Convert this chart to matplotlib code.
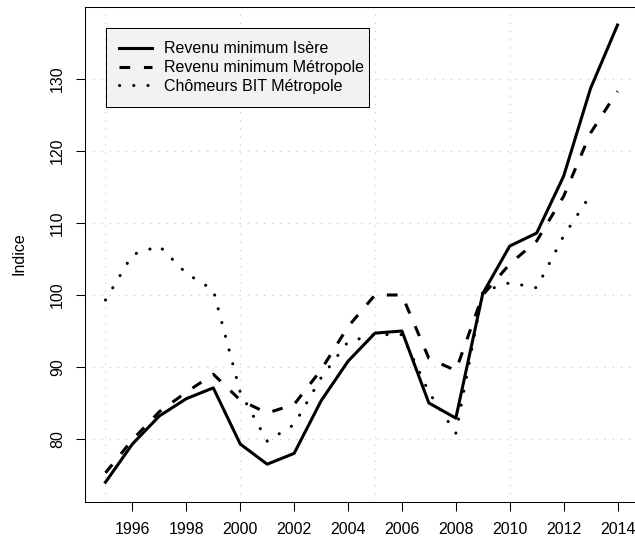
import numpy as np
import matplotlib
matplotlib.use("Agg")
import matplotlib.pyplot as plt

plt.rcParams['font.family'] = ['Liberation Sans', 'DejaVu Sans']

# data (index values)
years = list(range(1995, 2015))
isere = [74.0, 79.3, 83.2, 85.6, 87.1, 79.3, 76.5, 78.0, 85.3, 90.8,
         94.7, 95.0, 85.0, 82.9, 100.2, 106.8, 108.6, 116.5, 128.7, 137.5]
metropole = [75.3, 79.9, 83.8, 86.5, 89.0, 85.4, 83.6, 84.8, 89.6, 95.6,
             100.0, 100.0, 91.2, 89.5, 100.0, 104.3, 107.5, 113.7, 122.5, 128.3]
chomeurs = [99.3, 105.6, 106.8, 103.0, 100.7, 86.5, 79.7, 82.0, 88.5, 93.5,
            94.5, 94.5, 86.5, 80.8, 100.5, 101.7, 101.0, 108.2, 113.9, np.nan]

labels = ['Revenu minimum Isère', 'Revenu minimum Métropole', 'Chômeurs BIT Métropole']
xticks = list(range(1996, 2015, 2))
yticks = [80, 90, 100, 110, 120, 130]
xgrid = [1995, 2000, 2005, 2010]

fig = plt.figure(figsize=(6.35, 5.42), dpi=100)
ax = fig.add_axes([85 / 635, 40 / 542, 553 / 635, 495 / 542])

# grid first so the lines sit on top
for gx in xgrid:
    ax.axvline(gx, color='#c8c8c8', lw=0.8, dashes=(1, 6.3), zorder=0)
for gy in yticks:
    ax.axhline(gy, color='#c8c8c8', lw=0.8, dashes=(1, 6.3), zorder=0)

lw = 2.2
ax.plot(years, isere, color='black', lw=lw, solid_joinstyle='round', label=labels[0])
ax.plot(years, metropole, color='black', lw=lw, dashes=(3.5, 4.5), label=labels[1])
ax.plot(years, chomeurs, color='black', lw=lw, dashes=(0.05, 4.6),
        dash_capstyle='round', label=labels[2])

ax.set_xlim(1994.24, 2014.76)
ax.set_ylim(71.25, 140.0)

ax.set_xticks(xticks)
ax.set_xticklabels([str(t) for t in xticks], fontsize=11.5)
ax.set_yticks(yticks)
ax.set_yticklabels([str(t) for t in yticks], fontsize=11.5, rotation=90, va='center')
ax.tick_params(direction='out', length=6.5, width=0.75, pad=8)

for s in ax.spines.values():
    s.set_linewidth(0.75)

fig.text(19 / 635, 1 - 254 / 542, 'Indice', rotation=90, ha='center', va='center',
         fontsize=11.5)

leg = ax.legend(loc='upper left', bbox_to_anchor=(0.0374, 0.957, 0.4767, 0.0),
                mode='expand', borderaxespad=0, fontsize=11.5, handlelength=2.1,
                handletextpad=0.7, borderpad=0.82, labelspacing=0.24,
                fancybox=False, framealpha=1, edgecolor='black',
                facecolor='#f2f2f2')
leg.get_frame().set_linewidth(0.75)

fig.savefig('out.png', dpi=100)
